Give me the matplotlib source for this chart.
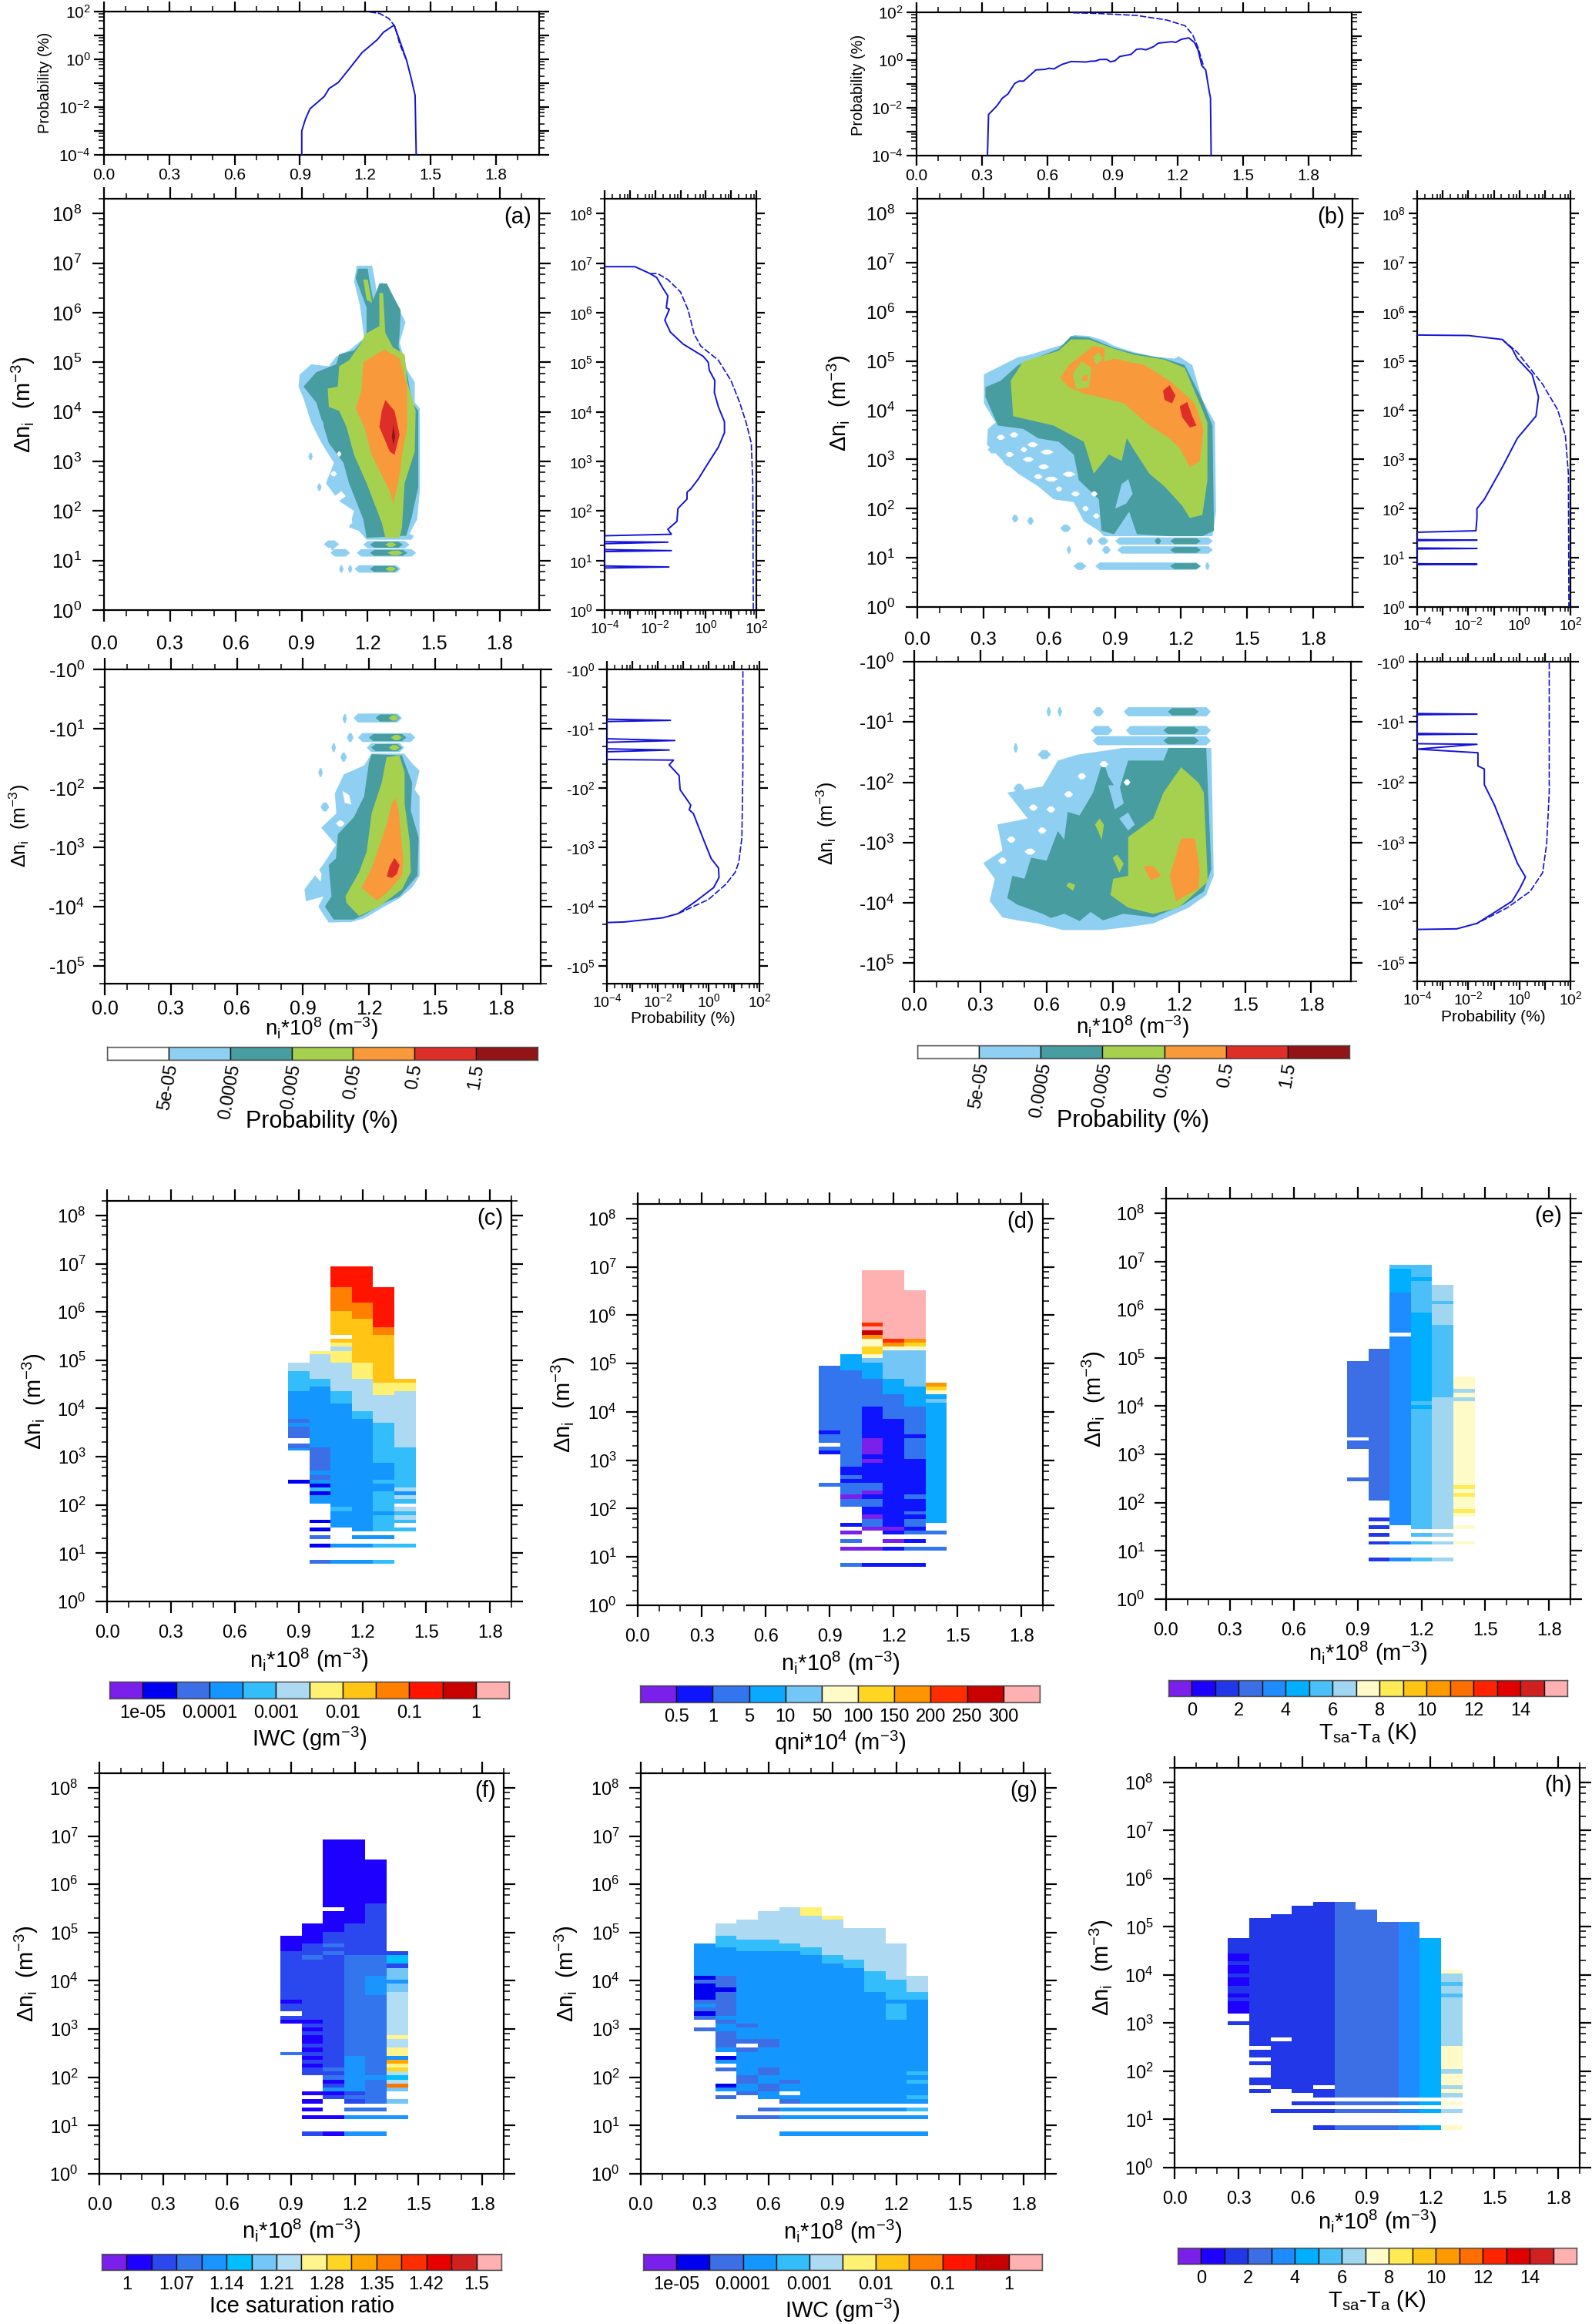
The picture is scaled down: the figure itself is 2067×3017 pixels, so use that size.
import numpy as np
import matplotlib
matplotlib.use('Agg')
import matplotlib.pyplot as plt
from matplotlib.ticker import FixedLocator, FuncFormatter, NullFormatter

W, H = 2067, 3017
BLUE = '#1212D8'

plt.rcParams['font.family'] = ['Liberation Sans', 'DejaVu Sans']
plt.rcParams['mathtext.fontset'] = 'custom'
plt.rcParams['mathtext.rm'] = 'Liberation Sans'
plt.rcParams['mathtext.it'] = 'Liberation Sans:italic'
plt.rcParams['mathtext.default'] = 'regular'

# ---- colour scales
PROB_COLORS = ['#FFFFFF', '#8FD0F2', '#489DA0', '#A6D14F', '#F89A3B', '#DE2E28', '#931417']
PROB_LABELS = ['5e-05', '0.0005', '0.005', '0.05', '0.5', '1.5']
IWC = {'P': '#7B1FEB', 'B': '#0000F0', 'R': '#3C6EE6', 'A': '#1496FF', 'C': '#33BDFA', 'L': '#ADD9F2',
       'Y': '#FFF273', 'G': '#FFC414', 'O': '#FF7F00', 'E': '#FF1400', 'D': '#C80000', 'K': '#FFB0B0'}
IWC_LABELS = ['1e-05', '', '0.0001', '', '0.001', '', '0.01', '', '0.1', '', '1']
QNI = {'P': '#7B1FEB', 'B': '#0F14FF', 'R': '#3275EE', 'A': '#0AA8FF', 'L': '#73C6F5', 'W': '#FFFBC8',
       'G': '#FFD524', 'O': '#FF9400', 'E': '#FF2D00', 'D': '#C80000', 'K': '#FFB0B0'}
QNI_LABELS = ['0.5', '1', '5', '10', '50', '100', '150', '200', '250', '300']
TSA = {'P': '#7B1FEB', 'B': '#1E00FF', 'N': '#2237E8', 'R': '#3C6EE6', 'S': '#1E8CFF', 'A': '#00AFFF',
       'C': '#4BC0F8', 'L': '#A0D6F0', 'W': '#FFFBC8', 'Y': '#FFEB55', 'G': '#FFC414', 'O': '#FF9900',
       'X': '#FF6E00', 'E': '#FF2300', 'D': '#E00000', 'F': '#D02020', 'K': '#FFB0B0'}
TSA_LABELS = ['0', '', '2', '', '4', '', '6', '', '8', '', '10', '', '12', '', '14']
ISR = {'P': '#7B1FEB', 'B': '#1E00FF', 'N': '#2B47EE', 'R': '#3375EC', 'S': '#1A94FF', 'A': '#00BEFF',
       'M': '#73C6F5', 'L': '#B2DEF5', 'Y': '#FFF58C', 'G': '#FFD524', 'O': '#FFA500', 'X': '#FF7300',
       'E': '#FF2D00', 'D': '#E80000', 'F': '#D02020', 'K': '#FFB0B0'}
ISR_LABELS = ['1', '', '1.07', '', '1.14', '', '1.21', '', '1.28', '', '1.35', '', '1.42', '', '1.5']

# ---- marginal PDFs: (n_i, log10 prob)
TOP_A_PDF = [(0.909, -4), (0.909, -3), (0.926, -2.5), (0.947, -2.07), (1.012, -1.56), (1.035, -1.22), (1.077, -0.97),
             (1.128, -0.39), (1.186, 0.28), (1.256, 0.82), (1.284, 1.13), (1.333, 1.43), (1.349, 1.04), (1.372, 0.45),
             (1.391, -0.05), (1.412, -0.8), (1.43, -1.51), (1.435, -4)]
TOP_A_CUM = [(1.221, 1.98), (1.267, 1.92), (1.309, 1.71), (1.337, 1.38), (1.36, 0.62), (1.391, -0.05)]
TOP_B_PDF = [(0.326, -4), (0.331, -2.28), (0.369, -1.92), (0.394, -1.6), (0.42, -1.42), (0.451, -0.98), (0.471, -0.88),
             (0.492, -0.88), (0.549, -0.41), (0.591, -0.39), (0.609, -0.34), (0.631, -0.37), (0.669, -0.18),
             (0.711, -0.06), (0.78, -0.08), (0.797, -0.05), (0.823, -0.04), (0.84, 0.02), (0.874, 0.03), (0.891, -0.07),
             (0.912, -0.03), (0.934, 0.15), (0.986, 0.24), (1.011, 0.45), (1.032, 0.47), (1.054, 0.43), (1.089, 0.56),
             (1.111, 0.71), (1.174, 0.77), (1.191, 0.74), (1.217, 0.87), (1.251, 0.93), (1.277, 0.74), (1.294, 0.42),
             (1.311, -0.23), (1.329, -0.41), (1.346, -1.36), (1.351, -1.58), (1.354, -4)]
TOP_B_CUM = [(0.72, 1.98), (0.84, 1.95), (1.011, 1.87), (1.149, 1.68), (1.234, 1.44), (1.269, 1.06), (1.294, 0.52),
             (1.32, -0.28)]

# (log10 prob, log10 |dn|)
RIGHT_A_UP_PDF = [(-4, 6.93), (-2.8, 6.93), (-2.2, 6.79), (-1.94, 6.71), (-1.7, 6.5), (-1.5, 6.34), (-1.56, 6.1),
                  (-1.44, 6.07), (-1.62, 5.85), (-1.4, 5.61), (-0.9, 5.37), (-0.1, 5.12), (0.1, 5), (0.14, 4.84),
                  (0.36, 4.63), (0.34, 4.39), (0.5, 4.1), (0.74, 3.8), (0.74, 3.58), (0.5, 3.29), (0.1, 2.97),
                  (-0.3, 2.64), (-0.6, 2.44), (-0.74, 2.38), (-0.74, 2.24), (-1.1, 2.05), (-1.14, 1.79), (-1.5, 1.63),
                  (-1.36, 1.53), (-4, 1.5), (-4, 1.38), (-1.5, 1.37), (-4, 1.34), (-4, 1.22), (-1.36, 1.2), (-4, 1.18),
                  (-4, 0.89), (-1.46, 0.87), (-4, 0.85)]
RIGHT_A_UP_CUM = [(-2.2, 6.79), (-1.9, 6.79), (-1.5, 6.67), (-1, 6.42), (-0.7, 6.06), (-0.46, 5.57), (-0.2, 5.33),
                  (0.5, 5.04), (1, 4.63), (1.34, 4.19), (1.6, 3.78), (1.8, 3.37), (1.86, 2.56), (1.88, 0)]
RIGHT_A_LO_PDF = [(-4, 0.84), (-1.5, 0.86), (-4, 0.88), (-4, 1.17), (-1.33, 1.2), (-4, 1.23), (-4, 1.34), (-1.55, 1.36),
                  (-4, 1.39), (-4, 1.52), (-1.38, 1.53), (-1.55, 1.61), (-1.16, 1.79), (-1.12, 2.03), (-0.7, 2.29),
                  (-0.76, 2.37), (-0.6, 2.43), (-0.2, 2.87), (0.1, 3.19), (0.39, 3.35), (0.41, 3.51), (0.2, 3.68),
                  (-0.5, 3.91), (-1.2, 4.12), (-1.8, 4.19), (-3.3, 4.26), (-4, 4.27)]
RIGHT_A_LO_CUM = [(1.35, 0.03), (1.35, 1.68), (1.31, 2.84), (1.19, 3.25), (1.05, 3.42), (0.69, 3.62), (0, 3.88), (-1.2, 4.12)]
RIGHT_B_UP_PDF = [(-4, 5.53), (-2, 5.52), (-0.67, 5.44), (-0.28, 5.25), (-0.08, 5.05), (0.5, 4.73), (0.75, 4.27),
                  (0.65, 3.88), (-0.08, 3.43), (-0.67, 2.84), (-1.37, 2.19), (-1.66, 2.0), (-1.66, 1.81), (-1.7, 1.55),
                  (-4, 1.52), (-4, 1.37), (-1.66, 1.36), (-4, 1.35), (-4, 1.2), (-1.66, 1.19), (-4, 1.18), (-4, 0.88),
                  (-1.66, 0.87), (-4, 0.86)]
RIGHT_B_UP_CUM = [(-0.67, 5.44), (-0.08, 5.18), (0.91, 4.53), (1.5, 4.01), (1.8, 3.49), (1.92, 2.71), (1.94, 0)]
RIGHT_B_LO_PDF = [(-4, 0.86), (-1.66, 0.87), (-4, 0.88), (-4, 1.19), (-1.66, 1.2), (-4, 1.21), (-4, 1.36), (-1.66, 1.37),
                  (-4, 1.45), (-1.62, 1.51), (-1.62, 1.73), (-1.37, 1.78), (-1.37, 2.04), (-0.97, 2.38), (-0.57, 2.81),
                  (-0.08, 3.34), (0.24, 3.57), (0.02, 3.76), (-0.28, 3.97), (-0.87, 4.13), (-1.66, 4.34), (-2.45, 4.43),
                  (-4, 4.44)]
RIGHT_B_LO_CUM = [(1.17, 0.02), (1.17, 2.17), (1.07, 3.02), (0.91, 3.5), (0.42, 3.81), (-0.47, 4.08), (-1.66, 4.34)]

# ---- joint PDF regions: (level, [(n_i, log10 |dn|), ...])
A_UP_REGIONS = [
    (1, [(1.15, 6.95), (1.22, 6.95), (1.235, 6.6), (1.24, 6.38), (1.265, 6.63), (1.29, 6.3), (1.345, 6.05), (1.372, 5.81),
         (1.345, 5.4), (1.38, 4.84), (1.414, 4.6), (1.414, 4.19), (1.437, 4.07), (1.437, 2.4), (1.425, 1.83), (1.39, 1.54),
         (1.41, 1.5), (1.4, 1.42), (1.195, 1.42), (1.16, 1.6), (1.115, 1.67), (1.138, 2.0), (1.07, 2.2), (1.01, 2.56),
         (1.046, 2.97), (0.99, 3.37), (0.943, 3.78), (0.908, 4.27), (0.885, 4.51), (0.89, 4.75), (0.943, 4.96), (1.023, 4.92),
         (1.057, 5.12), (1.115, 5.24), (1.184, 5.49), (1.165, 6.14), (1.138, 6.63)]),
    (0, [(1.09, 2.0), (1.12, 2.05), (1.13, 1.75), (1.1, 1.7)]),
    (0, [(1.05, 2.3), (1.08, 2.4), (1.1, 2.3), (1.07, 2.2)]),
    (2, [(1.156, 6.89), (1.2, 6.89), (1.21, 6.6), (1.225, 6.26), (1.253, 6.59), (1.287, 6.59), (1.32, 6.3), (1.35, 6.05),
         (1.345, 5.57), (1.34, 5.33), (1.38, 4.76), (1.402, 4.19), (1.43, 4.02), (1.43, 2.48), (1.40, 1.87), (1.375, 1.5),
         (1.195, 1.46), (1.18, 1.83), (1.115, 2.56), (1.09, 2.97), (1.023, 3.37), (0.966, 4.19), (0.908, 4.51), (0.966, 4.8),
         (1.057, 4.96), (1.07, 5.16), (1.138, 5.24), (1.195, 5.53), (1.195, 6.1), (1.145, 6.7)]),
    (3, [(1.18, 6.67), (1.2, 6.67), (1.22, 6.2), (1.195, 6.26)]),
    (3, [(1.253, 6.4), (1.27, 6.4), (1.28, 5.6), (1.315, 5.3), (1.368, 5.16), (1.38, 4.6), (1.418, 4.02), (1.414, 3.2),
         (1.368, 2.56), (1.356, 1.67), (1.345, 1.46), (1.28, 1.46), (1.265, 1.75), (1.195, 2.56), (1.138, 3.13), (1.103, 3.7),
         (1.07, 4.02), (1.023, 4.1), (1.018, 4.47), (1.064, 4.51), (1.07, 4.92), (1.115, 5.04), (1.172, 5.4), (1.188, 5.57),
         (1.253, 5.73)]),
    (4, [(1.276, 5.26), (1.345, 5.08), (1.38, 4.51), (1.38, 3.7), (1.356, 3.13), (1.345, 2.72), (1.317, 2.15), (1.3, 2.4),
         (1.218, 3.13), (1.184, 3.7), (1.145, 4.07), (1.172, 4.43), (1.18, 5.0)]),
    (5, [(1.28, 4.24), (1.322, 4.02), (1.345, 3.54), (1.322, 3.13), (1.3, 3.2), (1.253, 3.7), (1.264, 4.02)]),
    (6, [(1.317, 3.74), (1.325, 3.5), (1.317, 3.33), (1.31, 3.5)]),
]
A_UP_BANDS = [(1, 1.18, 1.39, 1.32), (2, 1.21, 1.36, 1.32), (3, 1.28, 1.33, 1.32), (1, 1.0, 1.07, 1.33), (1, 1.03, 1.05, 1.28),
              (1, 1.03, 1.12, 1.155), (1, 1.15, 1.42, 1.155), (2, 1.21, 1.38, 1.155), (3, 1.29, 1.36, 1.155),
              (1, 1.14, 1.35, 0.83), (2, 1.21, 1.34, 0.83), (3, 1.28, 1.33, 0.83), (1, 1.07, 1.09, 0.83), (1, 1.11, 1.13, 0.83),
              (1, 0.93, 0.95, 3.1), (1, 0.98, 1.0, 3.75), (1, 0.97, 0.99, 2.48), (0, 1.03, 1.06, 2.75), (0, 1.06, 1.08, 3.15)]

A_LO_REGIONS = [
    (1, [(1.212, 1.42), (1.36, 1.42), (1.40, 1.6), (1.43, 1.71), (1.408, 2.03), (1.43, 2.14), (1.43, 3.48), (1.396, 3.68),
         (1.339, 3.86), (1.27, 4), (1.178, 4.2), (1.12, 4.26), (1.017, 4.27), (0.994, 4.14), (0.97, 4.0), (0.994, 3.83),
         (0.914, 3.91), (0.907, 3.71), (0.994, 3.28), (1.05, 2.96), (0.983, 2.67), (1.052, 2.43), (1.045, 2.09), (1.086, 1.77),
         (1.178, 1.62)]),
    (0, [(0.95, 3.45), (0.98, 3.58), (0.985, 3.45), (0.96, 3.3)]),
    (0, [(1.08, 2.05), (1.11, 2.12), (1.12, 2.28), (1.09, 2.25)]),
    (2, [(1.212, 1.43), (1.35, 1.45), (1.362, 1.57), (1.396, 1.91), (1.39, 2.38), (1.426, 2.84), (1.42, 3.48), (1.339, 3.83),
         (1.27, 3.94), (1.178, 4.14), (1.132, 4.22), (1.04, 4.22), (1.0, 4), (1.03, 3.83), (1.017, 3.3), (1.05, 3.19),
         (1.059, 2.78), (1.132, 2.49), (1.178, 2.14), (1.2, 1.57)]),
    (3, [(1.28, 1.48), (1.338, 1.45), (1.362, 1.74), (1.362, 2.26), (1.385, 2.9), (1.39, 3.42), (1.35, 3.71), (1.247, 4),
         (1.155, 4.16), (1.098, 3.94), (1.093, 3.83), (1.155, 3.42), (1.19, 3.07), (1.212, 2.43), (1.258, 1.91)]),
    (4, [(1.32, 2.17), (1.335, 2.38), (1.355, 3.19), (1.35, 3.48), (1.281, 3.77), (1.235, 3.9), (1.166, 3.68), (1.212, 3.36),
         (1.281, 2.61), (1.304, 2.26)]),
    (5, [(1.316, 3.18), (1.339, 3.3), (1.327, 3.45), (1.304, 3.52), (1.281, 3.49), (1.293, 3.33)]),
]
A_LO_BANDS = [(1, 1.13, 1.35, 0.82), (2, 1.23, 1.34, 0.82), (3, 1.29, 1.335, 0.82), (1, 1.08, 1.1, 0.83),
              (1, 1.15, 1.41, 1.15), (2, 1.2, 1.37, 1.15), (3, 1.3, 1.35, 1.15), (1, 1.1, 1.13, 1.15),
              (1, 1.19, 1.36, 1.32), (2, 1.21, 1.35, 1.32), (3, 1.29, 1.34, 1.32), (1, 1.03, 1.05, 1.32),
              (1, 1.07, 1.1, 1.48), (1, 0.97, 0.99, 1.74), (1, 0.98, 1.02, 2.32), (0, 1.05, 1.09, 2.6), (1, 0.98, 1.0, 4.0)]

B_UP_REGIONS = [
    (1, [(0.303, 4.73), (0.459, 5.08), (0.505, 5.12), (0.643, 5.31), (0.689, 5.34), (0.712, 5.53), (0.781, 5.51), (0.849, 5.42),
         (0.895, 5.31), (0.987, 5.18), (1.079, 5.09), (1.171, 5.05), (1.189, 5.10), (1.251, 4.92), (1.297, 4.21), (1.354, 3.75),
         (1.359, 1.94), (1.343, 1.44), (0.964, 1.44), (0.849, 1.44), (0.826, 1.55), (0.758, 1.74), (0.712, 2.13), (0.62, 2.19),
         (0.551, 2.45), (0.459, 2.71), (0.39, 2.97), (0.317, 3.30), (0.321, 3.62), (0.356, 3.75), (0.303, 4.14)]),
    (2, [(0.31, 4.47), (0.379, 4.6), (0.459, 4.92), (0.643, 5.25), (0.70, 5.51), (0.781, 5.48), (0.895, 5.27), (0.987, 5.16),
         (1.125, 5.05), (1.217, 4.92), (1.297, 4.21), (1.343, 3.69), (1.35, 1.55), (1.297, 1.44), (1.143, 1.44), (0.999, 1.48),
         (0.964, 1.94), (0.895, 1.48), (0.838, 1.55), (0.826, 2.19), (0.735, 2.58), (0.712, 3.10), (0.643, 3.36), (0.551, 3.43),
         (0.482, 3.62), (0.367, 3.69), (0.31, 4.27)]),
    (1, [(0.9, 2.0), (0.93, 2.5), (0.96, 2.6), (0.98, 2.3), (0.95, 2.1)]),
    (3, [(0.425, 4.6), (0.482, 4.99), (0.643, 5.21), (0.70, 5.44), (0.781, 5.44), (0.895, 5.25), (0.987, 5.13), (1.125, 5.03),
         (1.217, 4.86), (1.297, 4.01), (1.32, 3.75), (1.32, 2.58), (1.297, 1.87), (1.24, 1.81), (1.205, 2.06), (1.125, 2.45),
         (1.056, 2.71), (0.999, 3.1), (0.953, 3.43), (0.93, 2.97), (0.872, 3.10), (0.803, 2.71), (0.758, 3.36), (0.62, 3.69),
         (0.436, 3.88)]),
    (4, [(0.65, 4.66), (0.689, 4.92), (0.803, 5.31), (0.854, 5.25), (0.849, 4.99), (0.895, 5.05), (1.033, 4.92), (1.148, 4.6),
         (1.263, 4.14), (1.302, 3.62), (1.286, 2.97), (1.24, 2.84), (1.194, 3.23), (1.148, 3.43), (1.056, 3.69), (0.941, 4.14),
         (0.826, 4.27), (0.758, 4.34), (0.689, 4.47)]),
    (3, [(0.707, 4.73), (0.746, 4.99), (0.792, 4.86), (0.781, 4.47), (0.723, 4.43)]),
    (4, [(0.753, 4.69), (0.774, 4.73), (0.776, 4.6), (0.748, 4.6)]),
    (3, [(0.799, 5.08), (0.826, 5.18), (0.843, 5.05), (0.815, 4.92)]),
    (5, [(1.118, 4.40), (1.148, 4.51), (1.175, 4.3), (1.159, 4.14), (1.125, 4.21)]),
    (5, [(1.194, 4.08), (1.228, 4.17), (1.251, 3.88), (1.27, 3.69), (1.24, 3.65), (1.205, 3.86)]),
]
B_UP_BANDS = [(1, 0.9, 1.345, 1.34), (2, 1.15, 1.29, 1.34), (2, 1.08, 1.11, 1.34), (1, 0.77, 0.8, 1.34), (1, 0.82, 0.87, 1.34),
              (1, 0.91, 1.345, 1.16), (2, 1.15, 1.29, 1.16), (1, 0.84, 0.88, 1.16), (1, 0.68, 0.7, 1.16),
              (1, 0.81, 1.29, 0.83), (2, 1.15, 1.29, 0.83), (1, 0.71, 0.77, 0.83), (1, 1.31, 1.33, 0.83),
              (1, 0.43, 0.46, 1.8), (1, 0.5, 0.53, 1.75), (1, 0.65, 0.7, 1.6), (1, 0.32, 0.37, 3.2), (1, 0.39, 0.44, 2.95),
              (0, 0.40, 0.44, 3.1), (0, 0.48, 0.53, 3.0), (0, 0.55, 0.6, 2.85), (0, 0.47, 0.5, 3.2), (0, 0.56, 0.62, 3.15),
              (0, 0.58, 0.64, 2.6), (0, 0.66, 0.72, 2.7), (0, 0.63, 0.66, 2.4), (0, 0.7, 0.74, 2.3), (0, 0.75, 0.78, 2.0),
              (0, 0.79, 0.82, 2.3), (0, 0.8, 0.83, 1.85), (0, 0.53, 0.57, 2.65), (0, 0.36, 0.4, 3.45), (0, 0.42, 0.46, 3.5),
              (0, 0.5, 0.55, 3.3)]

B_LO_REGIONS = [
    (1, [(0.947, 1.43), (1.347, 1.43), (1.358, 3.55), (1.324, 3.87), (1.244, 4.08), (1.084, 4.34), (0.97, 4.40), (0.856, 4.45),
         (0.674, 4.45), (0.559, 4.34), (0.468, 4.29), (0.40, 4.24), (0.342, 3.97), (0.365, 3.6), (0.313, 3.34), (0.40, 3.13),
         (0.377, 2.70), (0.514, 2.6), (0.422, 2.17), (0.582, 2.07), (0.651, 1.64), (0.742, 1.54), (0.856, 1.48)]),
    (2, [(1.153, 1.43), (1.324, 1.43), (1.347, 3.44), (1.313, 3.81), (1.221, 4.03), (1.084, 4.24), (0.947, 4.18), (0.856, 4.29),
         (0.8, 4.15), (0.75, 4.3), (0.68, 4.18), (0.62, 4.25), (0.582, 4.18), (0.468, 4.03), (0.422, 3.92), (0.445, 3.55),
         (0.5, 3.6), (0.53, 3.25), (0.6, 3.3), (0.651, 2.81), (0.68, 2.95), (0.696, 2.49), (0.75, 2.55), (0.811, 2.17),
         (0.856, 1.64), (0.88, 1.9), (0.925, 2.17), (0.97, 1.64), (1.13, 1.64)]),
    (1, [(0.88, 2.05), (0.91, 2.45), (0.95, 2.35), (0.93, 2.05)]),
    (1, [(0.93, 2.6), (0.97, 2.8), (1.0, 2.7), (0.97, 2.5)]),
    (3, [(1.21, 1.75), (1.29, 2.01), (1.313, 2.17), (1.331, 3.65), (1.199, 4.08), (1.084, 4.18), (0.97, 4.08), (0.89, 3.87),
         (0.902, 3.6), (0.97, 3.55), (0.97, 2.91), (1.084, 2.6), (1.13, 2.17)]),
    (3, [(0.82, 2.7), (0.85, 2.95), (0.86, 2.7), (0.84, 2.6)]),
    (3, [(0.9, 3.25), (0.93, 3.5), (0.95, 3.35), (0.92, 3.2)]),
    (3, [(0.69, 3.72), (0.72, 3.8), (0.73, 3.7), (0.7, 3.66)]),
    (4, [(1.21, 2.93), (1.272, 2.93), (1.295, 3.44), (1.29, 3.76), (1.187, 3.97), (1.158, 3.55)]),
    (4, [(1.039, 3.39), (1.084, 3.39), (1.119, 3.55), (1.073, 3.63)]),
]
B_LO_BANDS = [(1, 0.95, 1.345, 0.83), (2, 1.15, 1.29, 0.83), (1, 0.6, 0.62, 0.83), (1, 0.65, 0.67, 0.83), (1, 0.81, 0.86, 0.83),
              (1, 0.96, 1.345, 1.14), (2, 1.13, 1.29, 1.14), (1, 0.8, 0.9, 1.14), (1, 0.81, 1.345, 1.31), (2, 1.13, 1.29, 1.31),
              (1, 0.45, 0.47, 1.43), (1, 0.56, 0.62, 1.54), (1, 0.45, 0.5, 2.1), (0, 0.42, 0.46, 2.95), (0, 0.38, 0.42, 3.3),
              (0, 0.5, 0.55, 3.15), (0, 0.56, 0.6, 2.8), (0, 0.6, 0.64, 2.45), (0, 0.52, 0.56, 2.42), (0, 0.68, 0.72, 2.2),
              (0, 0.74, 0.78, 1.9), (0, 0.84, 0.88, 1.7), (0, 0.95, 0.98, 2.0)]

# ---- mean value in each bin: one list per n_i column, (code, log10 top, log10 bottom)
COLS_HIGH = [0.9, 1.0, 1.1, 1.2, 1.3, 1.4]
COLS_LOW = [0.3, 0.4, 0.5, 0.6, 0.7, 0.8, 0.9, 1.0, 1.1, 1.2, 1.3]

C_SEGS = [
    [('L', 4.95, 4.78), ('C', 4.78, 4.36), ('A', 4.36, 3.78), ('R', 3.78, 3.70), ('A', 3.70, 3.63), ('R', 3.63, 3.38),
     ('R', 3.28, 3.18), ('A', 3.18, 3.13), ('B', 2.53, 2.45)],
    [('Y', 5.19, 5.12), ('L', 5.12, 4.62), ('C', 4.62, 4.46), ('A', 4.46, 3.20), ('R', 3.20, 2.71), ('A', 2.71, 2.62),
     ('R', 2.62, 2.53), ('A', 2.53, 2.45), ('B', 2.45, 2.37), ('C', 2.37, 2.29), ('B', 2.29, 2.20), ('A', 2.20, 2.03),
     ('B', 1.70, 1.63), ('B', 1.53, 1.46), ('R', 1.37, 1.29), ('B', 1.20, 1.12), ('R', 0.87, 0.78)],
    [('E', 6.94, 6.52), ('O', 6.52, 6.02), ('G', 6.02, 5.52), ('G', 5.44, 5.36), ('Y', 5.36, 5.28), ('L', 5.28, 5.19),
     ('Y', 5.19, 4.95), ('L', 4.95, 4.36), ('C', 4.36, 4.11), ('A', 4.11, 1.96), ('C', 1.96, 1.87), ('A', 1.87, 1.53),
     ('A', 1.20, 1.12), ('A', 0.87, 0.78)],
    [('E', 6.94, 6.19), ('O', 6.19, 5.86), ('G', 5.86, 4.95), ('Y', 4.95, 4.62), ('L', 4.62, 3.95), ('C', 3.95, 3.78),
     ('A', 3.78, 1.46), ('A', 1.37, 1.29), ('A', 1.20, 1.12), ('A', 0.87, 0.78)],
    [('E', 6.52, 5.69), ('O', 5.69, 5.52), ('G', 5.52, 4.53), ('Y', 4.53, 4.28), ('L', 4.28, 3.70), ('C', 3.70, 2.87),
     ('A', 2.87, 2.53), ('C', 2.53, 2.45), ('A', 2.45, 2.29), ('C', 2.29, 1.87), ('A', 1.87, 1.79), ('C', 1.79, 1.46),
     ('A', 1.37, 1.29), ('C', 1.20, 1.12), ('C', 0.87, 0.78)],
    [('G', 4.62, 4.53), ('Y', 4.53, 4.36), ('L', 4.36, 3.20), ('C', 3.20, 2.37), ('L', 2.37, 2.29), ('A', 2.29, 2.20),
     ('L', 2.20, 2.12), ('C', 2.12, 2.03), ('L', 1.96, 1.87), ('C', 1.87, 1.79), ('L', 1.79, 1.70), ('C', 1.70, 1.63),
     ('C', 1.53, 1.46), ('C', 1.20, 1.12)],
]
D_SEGS = [
    [('R', 4.95, 3.62), ('B', 3.62, 3.53), ('R', 3.53, 3.36), ('R', 3.28, 3.20), ('B', 3.20, 3.12), ('R', 2.54, 2.46)],
    [('A', 5.2, 4.86), ('R', 4.86, 2.87), ('B', 2.87, 2.70), ('R', 2.70, 2.62), ('B', 2.62, 2.53), ('R', 2.53, 2.29),
     ('P', 2.29, 2.20), ('R', 2.20, 2.04), ('B', 1.70, 1.62), ('P', 1.54, 1.46), ('R', 1.37, 1.29), ('P', 1.21, 1.13),
     ('R', 0.87, 0.79)],
    [('K', 6.93, 5.85), ('E', 5.85, 5.77), ('K', 5.77, 5.69), ('D', 5.69, 5.60), ('O', 5.60, 5.52), ('W', 5.52, 5.35),
     ('G', 5.35, 5.19), ('W', 5.19, 5.11), ('L', 5.11, 5.02), ('A', 5.02, 4.69), ('R', 4.69, 4.11), ('B', 4.11, 3.45),
     ('P', 3.45, 3.12), ('B', 3.12, 3.03), ('P', 3.03, 2.95), ('B', 2.95, 2.53), ('R', 2.53, 2.37), ('P', 2.37, 2.29),
     ('B', 2.29, 2.20), ('R', 2.20, 2.04), ('B', 2.04, 1.88), ('P', 1.88, 1.79), ('R', 1.79, 1.62), ('P', 1.62, 1.54),
     ('P', 1.21, 1.13), ('B', 0.87, 0.79)],
    [('K', 6.93, 5.52), ('E', 5.52, 5.44), ('O', 5.44, 5.35), ('W', 5.35, 5.27), ('L', 5.27, 4.69), ('A', 4.69, 4.36),
     ('R', 4.36, 3.86), ('B', 3.86, 1.62), ('P', 1.62, 1.54), ('B', 1.54, 1.46), ('P', 1.37, 1.29), ('B', 1.21, 1.13),
     ('B', 0.87, 0.79)],
    [('K', 6.52, 5.52), ('O', 5.52, 5.44), ('G', 5.44, 5.35), ('W', 5.35, 5.27), ('L', 5.27, 4.53), ('A', 4.53, 4.11),
     ('R', 4.11, 3.53), ('B', 3.53, 3.45), ('R', 3.45, 3.03), ('B', 3.03, 2.29), ('R', 2.29, 2.20), ('B', 2.20, 1.95),
     ('R', 1.95, 1.88), ('B', 1.88, 1.79), ('R', 1.79, 1.62), ('B', 1.62, 1.54), ('R', 1.54, 1.46), ('B', 1.37, 1.29),
     ('R', 1.21, 1.13), ('B', 0.87, 0.79)],
    [('O', 4.61, 4.53), ('G', 4.53, 4.44), ('W', 4.44, 4.36), ('A', 4.36, 4.27), ('L', 4.27, 4.19), ('A', 4.19, 1.71),
     ('R', 1.54, 1.46), ('R', 1.21, 1.13)],
]
E_SEGS = [
    [('R', 4.94, 3.36), ('R', 3.29, 3.12), ('R', 2.53, 2.45)],
    [('R', 5.19, 2.05), ('N', 1.70, 1.62), ('N', 1.53, 1.46), ('N', 1.37, 1.29), ('N', 1.20, 1.13), ('N', 0.87, 0.79)],
    [('C', 6.93, 6.85), ('A', 6.85, 6.35), ('S', 6.35, 5.53), ('S', 5.45, 1.54), ('S', 1.20, 1.13), ('S', 0.87, 0.79)],
    [('C', 6.93, 6.68), ('A', 6.68, 6.6), ('C', 6.6, 5.94), ('A', 5.94, 4.11), ('C', 4.11, 4.03), ('A', 4.03, 3.95),
     ('C', 3.95, 1.46), ('C', 1.37, 1.29), ('C', 1.20, 1.13), ('C', 0.87, 0.79)],
    [('L', 6.52, 6.18), ('C', 6.18, 6.11), ('L', 6.11, 5.69), ('C', 5.69, 4.19), ('L', 4.19, 1.46), ('L', 1.37, 1.29),
     ('L', 1.20, 1.13), ('L', 0.87, 0.79)],
    [('W', 4.61, 4.36), ('L', 4.36, 4.28), ('W', 4.28, 4.19), ('L', 4.19, 4.11), ('W', 4.11, 2.37), ('Y', 2.37, 2.29),
     ('W', 2.29, 2.20), ('Y', 2.20, 2.12), ('W', 2.12, 1.87), ('Y', 1.87, 1.79), ('W', 1.79, 1.71), ('W', 1.53, 1.46),
     ('W', 1.20, 1.13)],
]
F_SEGS = [
    [('B', 4.94, 4.61), ('N', 4.61, 3.61), ('B', 3.61, 3.53), ('N', 3.53, 3.37), ('N', 3.28, 3.20), ('B', 3.20, 3.12),
     ('R', 2.53, 2.46)],
    [('B', 5.19, 4.77), ('N', 4.77, 4.53), ('R', 4.53, 4.44), ('N', 4.44, 3.19), ('B', 3.19, 3.11), ('N', 3.11, 3.03),
     ('B', 3.03, 2.95), ('N', 2.95, 2.87), ('B', 2.87, 2.70), ('N', 2.70, 2.62), ('B', 2.62, 2.53), ('N', 2.53, 2.45),
     ('B', 2.45, 2.37), ('N', 2.37, 2.29), ('B', 2.29, 2.20), ('N', 2.20, 2.04), ('B', 1.71, 1.63), ('B', 1.55, 1.46),
     ('B', 1.37, 1.29), ('B', 1.21, 1.13), ('N', 0.88, 0.79)],
    [('B', 6.93, 5.52), ('B', 5.44, 5.01), ('N', 5.01, 4.77), ('R', 4.77, 4.69), ('N', 4.69, 4.61), ('R', 4.61, 4.53),
     ('N', 4.53, 2.20), ('R', 2.20, 2.12), ('N', 2.12, 2.04), ('R', 2.04, 1.95), ('B', 1.95, 1.87), ('N', 1.87, 1.79),
     ('S', 1.79, 1.71), ('B', 1.71, 1.63), ('N', 1.63, 1.55), ('B', 1.21, 1.13), ('B', 0.88, 0.79)],
    [('B', 6.93, 5.19), ('N', 5.19, 4.53), ('R', 4.53, 2.45), ('S', 2.45, 1.71), ('N', 1.71, 1.63), ('R', 1.63, 1.55),
     ('N', 1.55, 1.46), ('R', 1.37, 1.29), ('S', 1.21, 1.13), ('S', 0.88, 0.79)],
    [('B', 6.52, 5.60), ('N', 5.60, 4.53), ('R', 4.53, 4.11), ('S', 4.11, 3.70), ('R', 3.70, 2.04), ('S', 2.04, 1.95),
     ('R', 1.95, 1.46), ('R', 1.37, 1.29), ('S', 1.21, 1.13), ('S', 0.88, 0.79)],
    [('N', 4.61, 4.53), ('A', 4.53, 4.36), ('N', 4.36, 4.27), ('M', 4.27, 4.03), ('S', 4.03, 3.95), ('M', 3.95, 3.77),
     ('L', 3.77, 2.87), ('Y', 2.87, 2.79), ('L', 2.79, 2.62), ('Y', 2.62, 2.45), ('S', 2.45, 2.37), ('O', 2.37, 2.29),
     ('Y', 2.29, 2.20), ('G', 2.20, 2.12), ('L', 2.12, 2.04), ('A', 2.04, 1.95), ('L', 1.95, 1.87), ('X', 1.87, 1.79),
     ('M', 1.79, 1.71), ('M', 1.55, 1.46), ('S', 1.21, 1.13)],
]
G_SEGS = [
    [('A', 4.77, 4.11), ('B', 4.11, 4.03), ('R', 4.03, 3.95), ('B', 3.95, 3.61), ('R', 3.61, 3.53), ('A', 3.53, 3.45),
     ('R', 3.45, 3.37), ('B', 3.37, 3.28), ('R', 3.28, 3.20), ('R', 3.03, 2.95)],
    [('L', 5.19, 4.94), ('C', 4.94, 4.69), ('A', 4.69, 4.11), ('R', 4.11, 3.86), ('B', 3.86, 3.77), ('R', 3.77, 3.28),
     ('A', 3.28, 3.20), ('R', 3.20, 3.11), ('A', 3.11, 2.95), ('R', 2.95, 2.62), ('A', 2.62, 2.53), ('B', 2.45, 2.37),
     ('A', 2.37, 2.29), ('R', 2.2, 2.12), ('B', 1.87, 1.79), ('A', 1.79, 1.71), ('R', 1.63, 1.55)],
    [('L', 5.27, 4.85), ('C', 4.85, 4.61), ('A', 4.61, 3.11), ('R', 3.11, 3.03), ('A', 3.03, 2.79), ('R', 2.79, 2.70),
     ('R', 2.62, 2.53), ('A', 2.53, 2.04), ('R', 2.04, 1.87), ('A', 1.87, 1.71), ('R', 1.71, 1.63), ('R', 1.21, 1.13)],
    [('L', 5.44, 4.85), ('C', 4.85, 4.61), ('A', 4.61, 2.79), ('R', 2.79, 2.62), ('A', 2.62, 2.20), ('R', 2.20, 2.04),
     ('A', 2.04, 1.87), ('R', 1.87, 1.71), ('A', 1.71, 1.55), ('R', 1.37, 1.29), ('R', 1.21, 1.13)],
    [('L', 5.52, 4.77), ('C', 4.77, 4.61), ('A', 4.61, 1.95), ('R', 1.95, 1.87), ('A', 1.87, 1.71), ('A', 1.63, 1.55),
     ('R', 1.55, 1.46), ('A', 1.37, 1.29), ('A', 1.21, 1.13), ('A', 0.88, 0.79)],
    [('Y', 5.52, 5.35), ('L', 5.35, 4.69), ('C', 4.69, 4.53), ('A', 4.53, 1.46), ('A', 1.37, 1.29), ('A', 1.21, 1.13), ('A', 0.88, 0.79)],
    [('Y', 5.35, 5.27), ('L', 5.27, 4.53), ('C', 4.53, 4.36), ('A', 4.36, 1.46), ('A', 1.37, 1.29), ('A', 1.21, 1.13), ('A', 0.88, 0.79)],
    [('L', 5.10, 4.44), ('C', 4.44, 4.27), ('A', 4.27, 1.46), ('A', 1.37, 1.29), ('A', 1.21, 1.13), ('A', 0.88, 0.79)],
    [('L', 5.10, 4.20), ('C', 4.20, 3.77), ('A', 3.77, 1.46), ('A', 1.37, 1.29), ('A', 1.21, 1.13), ('A', 0.88, 0.79)],
    [('L', 4.77, 4.03), ('C', 4.03, 3.61), ('A', 3.61, 3.53), ('C', 3.53, 3.20), ('A', 3.20, 1.46), ('A', 1.37, 1.29), ('A', 1.21, 1.13),
     ('A', 0.88, 0.79)],
    [('L', 4.11, 3.77), ('C', 3.77, 3.61), ('A', 3.61, 2.12), ('C', 2.12, 2.04), ('A', 2.04, 1.95), ('C', 1.95, 1.87),
     ('A', 1.87, 1.63), ('C', 1.63, 1.55), ('A', 1.55, 1.46), ('C', 1.37, 1.29), ('A', 1.21, 1.13), ('A', 0.88, 0.79)],
]
H_SEGS = [
    [('N', 4.77, 4.44), ('B', 4.44, 4.28), ('N', 4.28, 4.20), ('B', 4.20, 4.03), ('N', 4.03, 3.95), ('B', 3.95, 3.78),
     ('N', 3.78, 3.62), ('B', 3.62, 3.54), ('N', 3.54, 3.45), ('B', 3.45, 3.20), ('N', 3.04, 2.96)],
    [('N', 5.19, 2.53), ('N', 2.45, 2.29), ('N', 2.2, 2.12), ('N', 1.87, 1.71), ('N', 1.63, 1.55)],
    [('N', 5.27, 2.70), ('N', 2.62, 1.63), ('N', 1.21, 1.13)],
    [('N', 5.44, 1.55), ('N', 1.37, 1.29), ('N', 1.21, 1.13)],
    [('N', 5.52, 1.71), ('N', 1.63, 1.46), ('N', 1.37, 1.29), ('N', 1.21, 1.13), ('N', 0.88, 0.79)],
    [('R', 5.52, 1.46), ('R', 1.37, 1.29), ('R', 1.21, 1.13), ('R', 0.88, 0.79)],
    [('R', 5.36, 1.46), ('R', 1.37, 1.29), ('R', 1.21, 1.13), ('R', 0.88, 0.79)],
    [('R', 5.10, 1.46), ('R', 1.37, 1.29), ('R', 1.21, 1.13), ('R', 0.88, 0.79)],
    [('S', 5.10, 1.46), ('S', 1.37, 1.29), ('S', 1.21, 1.13), ('S', 0.88, 0.79)],
    [('A', 4.77, 1.46), ('A', 1.37, 1.29), ('A', 1.21, 1.13), ('A', 0.88, 0.79)],
    [('W', 4.11, 4.03), ('L', 4.03, 3.86), ('C', 3.86, 3.78), ('L', 3.78, 3.62), ('C', 3.62, 3.54), ('L', 3.54, 2.53),
     ('W', 2.53, 2.04), ('L', 2.04, 1.95), ('W', 1.95, 1.71), ('L', 1.71, 1.63), ('W', 1.63, 1.55), ('L', 1.55, 1.46),
     ('W', 1.37, 1.29), ('L', 1.21, 1.13), ('W', 0.88, 0.79)],
]

X_TICKS = [0.0, 0.3, 0.6, 0.9, 1.2, 1.5, 1.8]
X_MINOR = [0.1, 0.2, 0.4, 0.5, 0.7, 0.8, 1.0, 1.1, 1.3, 1.4, 1.6, 1.7, 1.9]

fig = plt.figure(figsize=(W / 100, H / 100), dpi=100, facecolor='white')


def add_box(left, top, right, bottom):
    return fig.add_axes([left / W, 1 - bottom / H, (right - left) / W, (bottom - top) / H])


def put_text(x, y, s, **kw):
    fig.text(x / W, 1 - y / H, s, ha='center', va='center', **kw)


def log_ticks(ax, axis, lo, hi):
    majors = [10.0 ** e for e in range(lo, hi + 1)]
    minors = [m * 10.0 ** e for e in range(lo - 1, hi + 1) for m in (2, 4, 6, 8)]
    target = ax.xaxis if axis == 'x' else ax.yaxis
    target.set_major_locator(FixedLocator(majors))
    target.set_minor_locator(FixedLocator(minors))
    target.set_minor_formatter(NullFormatter())


def sup_label(v, neg=False, step=1):
    e = int(round(np.log10(v)))
    if e % step:
        return ''
    return ('-' if neg else '') + '$10^{%d}$' % e


def dress(ax, major=10.8, minor=5.4, size=17, pad_x=6, pad_y=8, lw=1.6):
    for s in ax.spines.values():
        s.set_linewidth(lw)
    ax.tick_params(which='major', direction='out', top=True, right=True, length=major, width=lw,
                   labelsize=size)
    ax.tick_params(which='minor', direction='out', top=True, right=True, length=minor, width=lw * 0.7)
    ax.tick_params(axis='x', which='major', pad=pad_x)
    ax.tick_params(axis='y', which='major', pad=pad_y)


def setup_joint(ax, xmax, lower=False):
    ax.set_xlim(0, xmax)
    ax.set_xticks(X_TICKS)
    ax.set_xticks([m for m in X_MINOR if m <= xmax], minor=True)
    ax.xaxis.set_major_formatter(FuncFormatter(lambda v, p: '%.1f' % v))
    ax.set_yscale('log')
    if lower:
        ax.set_ylim(2e5, 1)
        log_ticks(ax, 'y', 0, 5)
        ax.yaxis.set_major_formatter(FuncFormatter(lambda v, p: sup_label(v, neg=True)))
    else:
        ax.set_ylim(1, 2e8)
        log_ticks(ax, 'y', 0, 8)
        ax.yaxis.set_major_formatter(FuncFormatter(lambda v, p: sup_label(v)))


def fill_regions(ax, regions, bands):
    for level, pts in regions:
        xs = [p[0] for p in pts]
        ys = [10.0 ** p[1] for p in pts]
        ax.fill(xs, ys, color=PROB_COLORS[level], lw=0, zorder=2)
    # narrow streaks and specks; level 0 punches the white gaps in the outer contour
    half = {0: 0.05, 1: 0.075, 2: 0.06, 3: 0.045}
    for level, x0, x1, e in sorted(bands, key=lambda b: b[0]):
        h = half[level]
        d = min(0.02, (x1 - x0) / 3)
        xs = [x0, x0 + d, x1 - d, x1, x1 - d, x0 + d]
        es = [e, e + h, e + h, e, e - h, e - h]
        ax.fill(xs, [10.0 ** v for v in es], color=PROB_COLORS[level], lw=0, zorder=3)


def draw_segments(ax, cols, segs, colors):
    for x, col in zip(cols, segs):
        for code, hi, lo in col:
            ax.bar(x, 10.0 ** hi - 10.0 ** lo, bottom=10.0 ** lo, width=0.1, color=colors[code],
                   linewidth=0, antialiased=False, zorder=2)


def line_pair(ax, pdf, cum, swap=False):
    for data, ls, lw in ((cum, (0, (5, 1.5)), 1.2), (pdf, '-', 1.4)):
        if swap:
            ax.plot([10.0 ** p[0] for p in data], [10.0 ** p[1] for p in data], color=BLUE, ls=ls, lw=lw, zorder=3)
        else:
            ax.plot([p[0] for p in data], [10.0 ** p[1] for p in data], color=BLUE, ls=ls, lw=lw, zorder=3)


def top_marginal(box, pdf, cum):
    ax = add_box(*box)
    ax.set_xlim(0, 2.0)
    ax.set_xticks(X_TICKS)
    ax.set_xticks(X_MINOR, minor=True)
    ax.xaxis.set_major_formatter(FuncFormatter(lambda v, p: '%.1f' % v))
    ax.set_yscale('log')
    ax.set_ylim(1e-4, 1e2)
    log_ticks(ax, 'y', -4, 2)
    ax.yaxis.set_major_formatter(FuncFormatter(lambda v, p: sup_label(v, step=2)))
    dress(ax, major=9.4, minor=5, size=15, pad_x=3, pad_y=3)
    line_pair(ax, pdf, cum)
    return ax


def right_marginal(box, pdf, cum, lower=False):
    ax = add_box(*box)
    ax.set_xscale('log')
    ax.set_xlim(1e-4, 1e2)
    log_ticks(ax, 'x', -4, 2)
    ax.xaxis.set_major_formatter(FuncFormatter(lambda v, p: sup_label(v, step=2)))
    ax.set_yscale('log')
    if lower:
        ax.set_ylim(2e5, 1)
        log_ticks(ax, 'y', 0, 5)
        ax.yaxis.set_major_formatter(FuncFormatter(lambda v, p: sup_label(v, neg=True)))
    else:
        ax.set_ylim(1, 2e8)
        log_ticks(ax, 'y', 0, 8)
        ax.yaxis.set_major_formatter(FuncFormatter(lambda v, p: sup_label(v)))
    dress(ax, major=8, minor=4, size=14, pad_x=1, pad_y=3)
    line_pair(ax, pdf, cum, swap=True)
    return ax


def colorbar(box, colors, labels, size=17, rotation=0, pad=5):
    ax = add_box(*box)
    n = len(colors)
    ax.bar(np.arange(n) + 0.5, np.ones(n), width=1.0, color=colors, edgecolor='#111111', linewidth=1.0)
    ax.set_xlim(0, n)
    ax.set_ylim(0, 1)
    ax.set_yticks([])
    ax.set_xticks(np.arange(1, len(labels) + 1))
    ax.set_xticklabels(labels, fontsize=size, rotation=rotation)
    ax.tick_params(axis='x', length=0, pad=pad)
    for s in ax.spines.values():
        s.set_linewidth(1.0)
        s.set_color('#555555')
    return ax


DN_LABEL = '\u0394n$_{i}$  (m$^{-3}$)'
NI_LABEL = 'n$_{i}$*10$^{8}$ (m$^{-3}$)'

# ---- panels a and b, with marginals
ax = add_box(135, 258, 700, 792)
setup_joint(ax, 1.98)
dress(ax, size=18, pad_x=12, pad_y=10)
fill_regions(ax, A_UP_REGIONS, A_UP_BANDS)
ax.text(0.982, 0.955, '(a)', transform=ax.transAxes, ha='right', va='center', fontsize=21)

ax = add_box(136, 869, 702, 1277)
setup_joint(ax, 1.98, lower=True)
dress(ax, size=18, pad_x=4, pad_y=8)
fill_regions(ax, A_LO_REGIONS, A_LO_BANDS)

top_marginal((135, 15, 700, 201), TOP_A_PDF, TOP_A_CUM)
right_marginal((785, 258, 982, 792), RIGHT_A_UP_PDF, RIGHT_A_UP_CUM)
right_marginal((788, 869, 986, 1277), RIGHT_A_LO_PDF, RIGHT_A_LO_CUM, lower=True)
colorbar((139, 1359, 698, 1376), PROB_COLORS, PROB_LABELS, size=17, rotation=80, pad=3)

ax = add_box(1191, 258, 1756, 788)
setup_joint(ax, 1.98)
dress(ax, size=17.5, pad_x=12, pad_y=10)
fill_regions(ax, B_UP_REGIONS, B_UP_BANDS)
ax.text(0.982, 0.955, '(b)', transform=ax.transAxes, ha='right', va='center', fontsize=21)

ax = add_box(1187, 859, 1754, 1274)
setup_joint(ax, 1.98, lower=True)
dress(ax, size=17.5, pad_x=4, pad_y=8)
fill_regions(ax, B_LO_REGIONS, B_LO_BANDS)

top_marginal((1190, 16, 1755, 202), TOP_B_PDF, TOP_B_CUM)
right_marginal((1840, 258, 2039, 788), RIGHT_B_UP_PDF, RIGHT_B_UP_CUM)
right_marginal((1840, 859, 2039, 1274), RIGHT_B_LO_PDF, RIGHT_B_LO_CUM, lower=True)
colorbar((1191, 1357, 1752, 1374), PROB_COLORS, PROB_LABELS, size=17, rotation=80, pad=3)

put_text(58, 107, 'Probability (%)', rotation=90, fontsize=14.5)
put_text(1115, 110, 'Probability (%)', rotation=90, fontsize=14.5)
put_text(887, 1323, 'Probability (%)', fontsize=15)
put_text(1939, 1320, 'Probability (%)', fontsize=15)
put_text(30, 525, DN_LABEL, rotation=90, fontsize=21)
put_text(25, 1072, DN_LABEL, rotation=90, fontsize=18)
put_text(1089, 523, DN_LABEL, rotation=90, fontsize=21)
put_text(1073, 1069, DN_LABEL, rotation=90, fontsize=18)
put_text(418, 1335, NI_LABEL, fontsize=20)
put_text(1471, 1333, NI_LABEL, fontsize=20)
put_text(418, 1456, 'Probability (%)', fontsize=22)
put_text(1471, 1455, 'Probability (%)', fontsize=22)

# ---- panels c-h
BLOCK_PANELS = [
    ('(c)', (139, 1559, 664, 2079), COLS_HIGH, C_SEGS, IWC, IWC_LABELS, (142, 2183, 661, 2205), 'IWC (gm$^{-3}$)', 2155, 2257),
    ('(d)', (828, 1563, 1354, 2084), COLS_HIGH, D_SEGS, QNI, QNI_LABELS, (831, 2188, 1350, 2210), 'qni*10$^{4}$ (m$^{-3}$)', 2159, 2262),
    ('(e)', (1514, 1556, 2039, 2076), COLS_HIGH, E_SEGS, TSA, TSA_LABELS, (1517, 2181, 2035, 2202), 'T$_{sa}$-T$_{a}$ (K)', 2146, 2250),
    ('(f)', (129, 2302, 654, 2822), COLS_HIGH, F_SEGS, ISR, ISR_LABELS, (132, 2926, 651, 2947), 'Ice saturation ratio', 2896, 2994),
    ('(g)', (832, 2302, 1357, 2822), COLS_LOW, G_SEGS, IWC, IWC_LABELS, (835, 2926, 1353, 2947), 'IWC (gm$^{-3}$)', 2897, 2999),
    ('(h)', (1525, 2295, 2051, 2814), COLS_LOW, H_SEGS, TSA, TSA_LABELS, (1529, 2918, 2047, 2939), 'T$_{sa}$-T$_{a}$ (K)', 2884, 2987),
]
YLABEL_X = {'(c)': 44, '(d)': 731, '(e)': 1420, '(f)': 34, '(g)': 735, '(h)': 1430}
for tag, box, cols, segs, colors, labels, cb_box, cb_title, xlab_y, cb_y in BLOCK_PANELS:
    ax = add_box(*box)
    setup_joint(ax, 1.9)
    dress(ax, size=17, pad_x=11, pad_y=9)
    draw_segments(ax, cols, segs, colors)
    ax.text(0.98, 0.955, tag, transform=ax.transAxes, ha='right', va='center', fontsize=21)
    cx = (box[0] + box[2]) / 2
    put_text(cx, xlab_y, NI_LABEL, fontsize=21)
    put_text(YLABEL_X[tag], (box[1] + box[3]) / 2, DN_LABEL, rotation=90, fontsize=21)
    colorbar(cb_box, list(colors.values()), labels, size=17, pad=6)
    put_text((cb_box[0] + cb_box[2]) / 2, cb_y, cb_title, fontsize=21)

fig.savefig('out.png', dpi=100, facecolor='white')
